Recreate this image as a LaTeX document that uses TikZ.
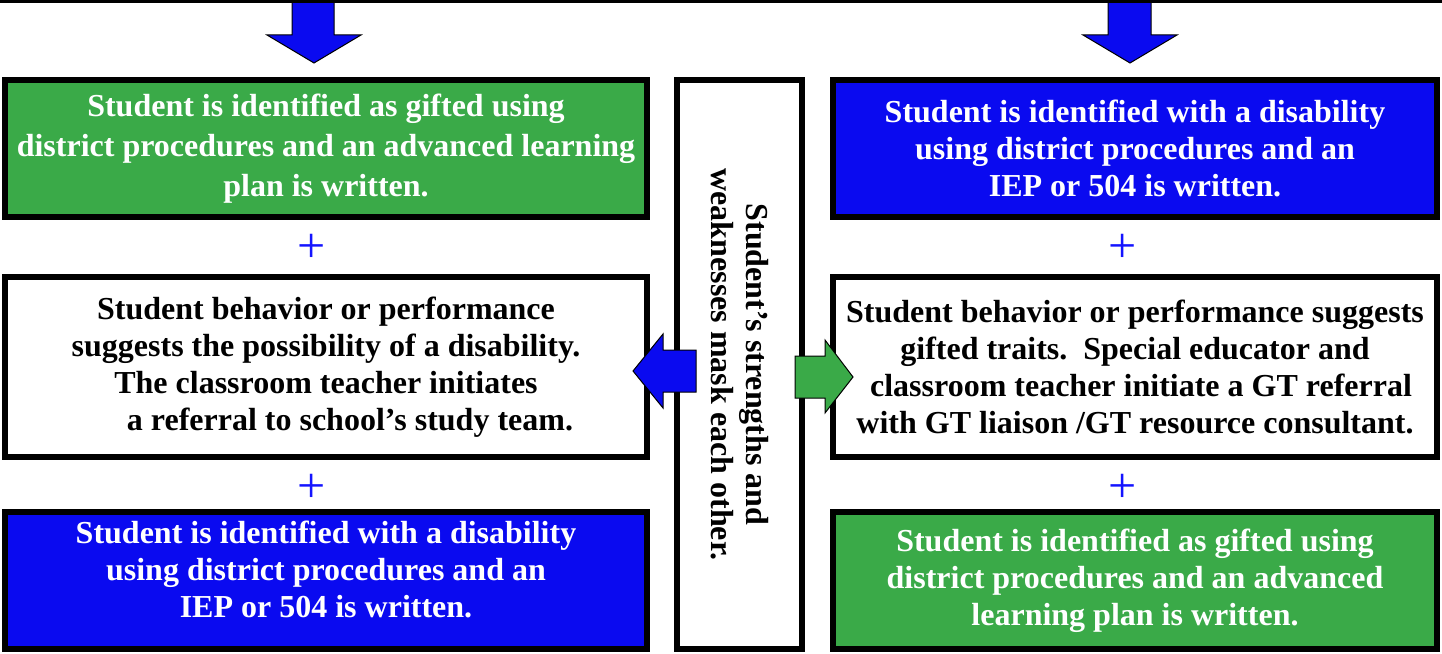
\documentclass[tikz,border=0pt]{standalone}
\usepackage{fontspec}
\setmainfont{Liberation Serif}
\usepackage{tikz}
\usetikzlibrary{positioning}
\definecolor{gtgreen}{RGB}{58,170,72}
\definecolor{idblue}{RGB}{10,10,240}
\definecolor{plusblue}{RGB}{20,20,255}
\tikzstyle{blockarrow} = [draw=black, line width=1bp, line join=miter]

\begin{document}
\begin{tikzpicture}[
    x=1bp, y=-1bp,
    every node/.style={font=\fontsize{32bp}{37bp}\selectfont\bfseries},
    box/.style={rectangle, draw=black, line width=6bp, align=center, inner sep=0pt},
    sidebox/.style={box, minimum width=642bp},
    widebox/.style={box, minimum width=604bp},
    plus/.style={text=plusblue, font=\fontsize{50bp}{50bp}\selectfont}
]
\useasboundingbox (0,0) rectangle (1442,654);

% Left column
\node[sidebox, fill=gtgreen, text=white, minimum height=137bp, font=\fontsize{32bp}{40bp}\selectfont\bfseries] (giftedL) at (326,148.5)
    {Student is identified as gifted using\\district procedures and an advanced learning\\plan is written.};
\node[sidebox, fill=white, minimum height=180bp] (refL) at (326,367)
    {Student behavior or performance\\suggests the possibility of a disability.\\The classroom teacher initiates\hspace*{44bp}\\\hspace*{48bp}a referral to school’s study team.};
\node[sidebox, fill=idblue, text=white, minimum height=137bp] (disL) at (326,580.5)
    {Student is identified with a disability\\using district procedures and an\\IEP or 504 is written.\\[-14bp]};

% Middle
\node[box, fill=white, rotate=-90, minimum width=569bp, minimum height=125bp, font=\fontsize{32bp}{35bp}\selectfont\bfseries] (mask) at (739.5,364.5)
    {Student’s strengths and\\weaknesses mask each other.};

% Right column
\node[widebox, fill=idblue, text=white, minimum height=137bp] (disR) at (1135,148.5)
    {Student is identified with a disability\\using district procedures and an\\IEP or 504 is written.};
\node[widebox, fill=white, minimum height=180bp] (refR) at (1135,367)
    {Student behavior or performance suggests\\gifted traits.\ \ Special educator and\\\hspace*{12bp}classroom teacher initiate a GT referral\\with GT liaison /GT resource consultant.};
\node[widebox, fill=gtgreen, text=white, minimum height=137bp] (giftedR) at (1135,580.5)
    {Student is identified as gifted using\\district procedures and an advanced\\learning plan is written.};

% Plus signs
\node[plus] (plusL1) at (312,248) {+};
\node[plus] (plusL2) at (312,488) {+};
\node[plus] (plusR1) at (1123,248) {+};
\node[plus] (plusR2) at (1123,488) {+};

% Block arrows
\draw[blockarrow, fill=idblue] (292,2) -- (292,35) -- (267,35) -- (314,63) -- (361,35) -- (334,35) -- (334,2) -- cycle;
\draw[blockarrow, fill=idblue] (1108,2) -- (1108,35) -- (1083,35) -- (1130,63) -- (1177,35) -- (1151,35) -- (1151,2) -- cycle;
\draw[blockarrow, fill=idblue] (696,350) -- (663,350) -- (663,334) -- (633,371) -- (663,408) -- (663,392) -- (696,392) -- cycle;
\draw[blockarrow, fill=gtgreen] (795,356) -- (825,356) -- (825,340) -- (853,377) -- (825,413) -- (825,398) -- (795,398) -- cycle;

% Top rule
\draw[line width=3bp] (0,1.5) -- (1442,1.5);

\end{tikzpicture}
\end{document}
